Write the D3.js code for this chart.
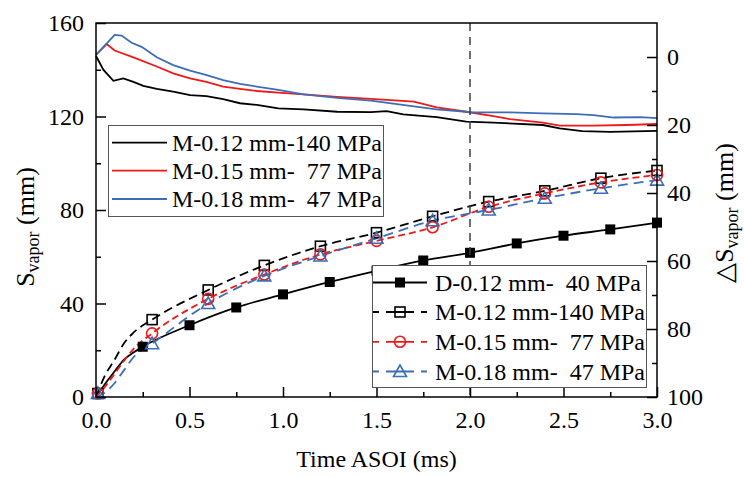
<!DOCTYPE html>
<html><head><meta charset="utf-8">
<script src="https://cdn.jsdelivr.net/npm/d3@7"></script>
</head>
<body style="margin:0;background:#fff"><svg id="c" width="744" height="477" style="display:block"></svg>
<script>
// ---------- data ----------
// Upper curves: delta S_vapor (right axis), time in ms
const dsBlackT = [0,0.04,0.093,0.146,0.2,0.253,0.325,0.413,0.503,0.59,0.68,0.77,0.86,0.975,1.11,1.29,1.47,1.554,1.643,1.822,1.98,2.125,2.39,2.48,2.6,2.75,3.0];
const dsBlackV = [-0.3,3.8,7.0,6.3,7.3,8.5,9.4,10.2,11.2,11.5,12.4,13.6,14.1,15.1,15.4,16.1,16.2,15.9,16.9,17.7,19.0,19.3,20.0,21.0,21.8,22.0,21.7];
const dsRedT = [0,0.057,0.1,0.2,0.325,0.413,0.503,0.59,0.68,0.77,0.86,0.975,1.11,1.29,1.47,1.7,1.822,1.98,2.125,2.214,2.39,2.48,2.66,2.84,3.0];
const dsRedV = [-0.6,-3.8,-1.9,0.1,2.8,4.8,6.3,7.3,8.7,9.4,10.0,10.5,11.0,11.7,12.3,13.1,14.8,16.1,17.4,18.3,19.3,20.2,20.2,20.0,19.7];
const dsBlueT = [0,0.1,0.137,0.19,0.244,0.325,0.413,0.503,0.592,0.68,0.77,0.86,0.975,1.11,1.29,1.47,1.64,1.82,1.98,2.0,2.214,2.39,2.57,2.66,2.77,2.91,3.0];
const dsBlueV = [-0.6,-6.5,-6.3,-4.2,-3.0,0.1,2.4,4.0,5.3,6.8,7.9,8.7,9.7,11.0,12.0,12.8,14.1,15.4,16.1,16.3,16.3,16.6,16.8,17.1,17.8,17.7,18.0];

// Lower curves: S_vapor (left axis)
const dTimes = [0.25,0.5,0.75,1.0,1.25,1.5,1.75,2.0,2.25,2.5,2.75,3.0];
const dVals  = [21.5,30.7,38.3,43.9,49.2,54.0,58.4,61.7,65.7,69.0,71.7,74.6];
const leadTimes = [0,0.05,0.1,0.15,0.2];
const dLead  = [0,5.8,11,16,19];
const mTimes = [0.01,0.3,0.6,0.9,1.2,1.5,1.8,2.1,2.4,2.7,3.0];
const m012 = [1.5,33.1,45.8,56.3,64.5,70.3,77.3,83.6,88.2,93.6,96.9];
const m015 = [1.5,27.2,42.0,52.4,61.0,66.8,72.6,81.4,87.1,91.8,95.0];
const m018 = [1.5,22.8,40.0,51.8,60.3,67.9,75.4,80.0,85.0,89.3,92.8];
const m012Lead = [0,9.5,16,23,27.5];
const m015Lead = [0,4.5,10,15.5,20.5];
const m018Lead = [0,2,6,11.5,17];

const xTicks = [0,0.5,1.0,1.5,2.0,2.5,3.0];
const xMinor = [0.25,0.75,1.25,1.75,2.25,2.75];
const yLTicks = [0,40,80,120,160];
const yLMinor = [20,60,100,140];
const yRTicks = [0,20,40,60,80,100];
const yRMinor = [10,30,50,70,90];
const legend1Labels = ["M-0.12 mm-140 MPa","M-0.15 mm-  77 MPa","M-0.18 mm-  47 MPa"];
const legend2Labels = ["D-0.12 mm-  40 MPa","M-0.12 mm-140 MPa","M-0.15 mm-  77 MPa","M-0.18 mm-  47 MPa"];

// ---------- layout ----------
const FONT='"Liberation Serif"';
const RED="#f01818", BLUE="#3d6db5", BLACK="#000";
const L=96,R=657,T=23,B=397;
const svg=d3.select("#c");
const x=d3.scaleLinear([0,3],[L,R]);
const yL=d3.scaleLinear([0,160],[B,T]);
const yR=d3.scaleLinear([100,-10],[B,T]);

// upper curves
const lineR=d3.line().x(d=>x(d[0])).y(d=>yR(d[1]));
const zip=(a,b)=>a.map((t,i)=>[t,b[i]]);
[[dsBlackT,dsBlackV,BLACK],[dsRedT,dsRedV,RED],[dsBlueT,dsBlueV,BLUE]].forEach(([t,v,c])=>{
  svg.append("path").attr("d",lineR(zip(t,v))).attr("fill","none").attr("stroke",c).attr("stroke-width",1.8);
});

// lower curves
const lineL=d3.line().x(d=>x(d[0])).y(d=>yL(d[1])).curve(d3.curveMonotoneX);
const series=[
 {lead:dLead, t:dTimes, v:dVals, c:BLACK, dash:null, m:"fsq"},
 {lead:m012Lead, t:mTimes, v:m012, c:BLACK, dash:"9,5", m:"sq"},
 {lead:m015Lead, t:mTimes, v:m015, c:RED, dash:"7,4", m:"ci"},
 {lead:m018Lead, t:mTimes, v:m018, c:BLUE, dash:"10,6", m:"tri"}
];
series.forEach(s=>{
  const pts=zip(leadTimes,s.lead).concat(zip(s.t,s.v).filter(p=>p[0]>0.2));
  svg.append("path").attr("d",lineL(pts)).attr("fill","none").attr("stroke",s.c)
    .attr("stroke-width",1.8).attr("stroke-dasharray",s.dash);
});
function marker(g,type,cx,cy,c){
  if(type==="fsq") g.append("rect").attr("x",cx-5).attr("y",cy-5).attr("width",10).attr("height",10).attr("fill",c);
  else if(type==="sq") g.append("rect").attr("x",cx-5).attr("y",cy-5).attr("width",10).attr("height",10).attr("fill","none").attr("stroke",c).attr("stroke-width",1.6);
  else if(type==="ci") g.append("circle").attr("cx",cx).attr("cy",cy).attr("r",5.5).attr("fill","none").attr("stroke",c).attr("stroke-width",1.6);
  else g.append("path").attr("d",`M${cx},${cy-6.5}L${cx+6.5},${cy+5}L${cx-6.5},${cy+5}Z`).attr("fill","none").attr("stroke",c).attr("stroke-width",1.6);
}
const mg=svg.append("g");
series.forEach(s=>{ s.t.forEach((t,i)=>marker(mg,s.m,x(t),yL(s.v[i]),s.c)); });

// vertical dashed line at 2.0 ms
svg.append("line").attr("x1",x(2)).attr("x2",x(2)).attr("y1",T).attr("y2",B)
  .attr("stroke","#404040").attr("stroke-width",1.5).attr("stroke-dasharray","8,6");

// axes
function styleAxis(g){g.attr("font-family",null).attr("font-size",null);g.select(".domain").remove();g.selectAll("line").attr("stroke","#000").attr("stroke-width",1.5);
  g.selectAll("text").attr("font-size",24).attr("fill","#000");}
svg.append("g").attr("transform",`translate(0,${B})`).call(d3.axisBottom(x).tickValues(xTicks).tickSize(-10).tickPadding(14).tickFormat(d3.format(".1f"))).call(styleAxis);
svg.append("g").attr("transform",`translate(0,${B})`).call(d3.axisBottom(x).tickValues(xMinor).tickSize(-5).tickFormat("")).call(styleAxis);
svg.append("g").attr("transform",`translate(${L},0)`).call(d3.axisLeft(yL).tickValues(yLTicks).tickSize(-10).tickPadding(12)).call(styleAxis);
svg.append("g").attr("transform",`translate(${L},0)`).call(d3.axisLeft(yL).tickValues(yLMinor).tickSize(-5).tickFormat("")).call(styleAxis);
svg.append("g").attr("transform",`translate(${R},0)`).call(d3.axisRight(yR).tickValues(yRTicks).tickSize(-10).tickPadding(10)).call(styleAxis);
svg.append("g").attr("transform",`translate(${R},0)`).call(d3.axisRight(yR).tickValues(yRMinor).tickSize(-5).tickFormat("")).call(styleAxis);
svg.append("rect").attr("x",L).attr("y",T).attr("width",R-L).attr("height",B-T).attr("fill","none").attr("stroke","#000").attr("stroke-width",1.5);

// titles
svg.append("text").attr("x",(L+R)/2).attr("y",467).attr("text-anchor","middle").attr("font-size",24).text("Time ASOI (ms)");
const lt=svg.append("text").attr("transform","translate(34,227) rotate(-90)").attr("text-anchor","middle").attr("font-size",26);
lt.append("tspan").text("S"); lt.append("tspan").attr("font-size",18).attr("dy",5).text("vapor"); lt.append("tspan").attr("dy",-5).text(" (mm)");
const rt=svg.append("text").attr("transform","translate(733,213) rotate(-90)").attr("text-anchor","middle").attr("font-size",26);
rt.append("tspan").text("\u25B3S"); rt.append("tspan").attr("font-size",18).attr("dy",5).text("vapor"); rt.append("tspan").attr("dy",-5).text(" (mm)");

// legend 1
const lg1=svg.append("g");
lg1.append("rect").attr("x",108.5).attr("y",125.5).attr("width",275).attr("height",91).attr("fill","#fff").attr("stroke","#555").attr("stroke-width",1);
const l1y=[142.7,170.7,199];
[BLACK,RED,BLUE].forEach((c,i)=>{
  lg1.append("line").attr("x1",112).attr("x2",167).attr("y1",l1y[i]).attr("y2",l1y[i]).attr("stroke",c).attr("stroke-width",1.8);
  lg1.append("text").attr("x",172).attr("y",l1y[i]+8).attr("font-size",24).text(legend1Labels[i]);
});
// legend 2
const lg2=svg.append("g");
lg2.append("rect").attr("x",372.5).attr("y",265.5).attr("width",274).attr("height",122).attr("fill","#fff").attr("stroke","#555").attr("stroke-width",1);
const l2y=[282.5,312,341.8,371.5];
series.forEach((s,i)=>{
  lg2.append("line").attr("x1",373).attr("x2",427).attr("y1",l2y[i]).attr("y2",l2y[i]).attr("stroke",s.c).attr("stroke-width",1.8).attr("stroke-dasharray",s.dash?"6,7,28,7":null);
  marker(lg2,s.m,400,l2y[i],s.c);
  lg2.append("text").attr("x",435).attr("y",l2y[i]+8).attr("font-size",24).text(legend2Labels[i]);
});

svg.selectAll("text").style("font-family",FONT).style("white-space","pre").attr("fill","#000");
</script></body></html>
